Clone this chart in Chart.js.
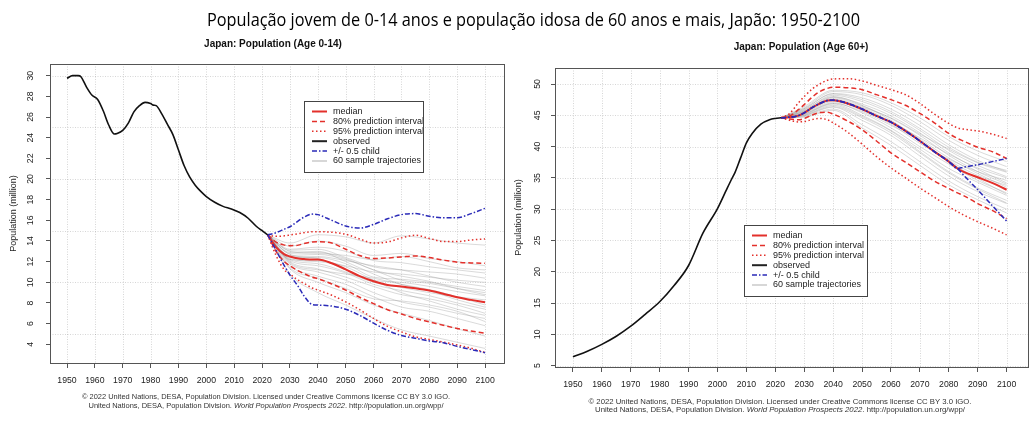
<!DOCTYPE html>
<html>
<head>
<meta charset="utf-8">
<script src="https://cdn.jsdelivr.net/npm/chart.js@4.4.0/dist/chart.umd.min.js"></script>
<style>
html, body { margin: 0; padding: 0; background: #fff; }
body { width: 1032px; height: 422px; position: relative; overflow: hidden; }
canvas { position: absolute; top: 0; }
#jovem { left: 0; }
#idosa { left: 510px; }
#titulo { position: absolute; left: 207px; top: 6px; white-space: nowrap; font-family: "Liberation Sans Narrow", "Open Sans", sans-serif; font-size: 19px; color: #000; transform-origin: 0 0; z-index: 2; }
</style>
</head>
<body>
<canvas id="jovem" width="516" height="422"></canvas>
<canvas id="idosa" width="522" height="422"></canvas>
<div id="titulo">População jovem de 0-14 anos e população idosa de 60 anos e mais, Japão: 1950-2100</div>
<script>
//Ticks do eixo x (iguais nos dois gráficos)
const anosTicks = [1950, 1960, 1970, 1980, 1990, 2000, 2010, 2020, 2030, 2040, 2050, 2060, 2070, 2080, 2090, 2100];

//----- Japão 0-14 anos -----
const anosObs014 = [1950, 1952, 1954, 1955, 1957, 1959, 1961, 1963, 1965, 1967, 1968, 1970, 1972, 1974, 1976, 1978, 1980, 1981, 1982, 1984, 1986, 1988, 1990, 1992, 1994, 1996, 1998, 2000, 2003, 2006, 2009, 2012, 2015, 2018, 2020, 2022];
const obs014 = [29.75, 30.0, 30.0, 29.9, 28.9, 28.1, 27.7, 26.6, 25.2, 24.35, 24.4, 24.7, 25.4, 26.5, 27.1, 27.42, 27.3, 27.15, 27.1, 26.3, 25.3, 24.3, 22.8, 21.3, 20.2, 19.4, 18.8, 18.3, 17.75, 17.35, 17.1, 16.75, 16.2, 15.4, 15.0, 14.6];

const anosProj014 = [2022, 2025, 2028, 2030, 2033, 2035, 2038, 2040, 2045, 2050, 2055, 2060, 2065, 2070, 2075, 2080, 2085, 2090, 2095, 2100];
const mediana014 = [14.6, 13.4, 12.7, 12.5, 12.3, 12.25, 12.2, 12.2, 11.85, 11.25, 10.6, 10.1, 9.75, 9.6, 9.42, 9.2, 8.9, 8.55, 8.3, 8.06];
const sup80_014 = [14.6, 13.9, 13.6, 13.55, 13.6, 13.75, 13.9, 13.93, 13.8, 13.2, 12.6, 12.3, 12.35, 12.45, 12.55, 12.4, 12.15, 11.95, 11.88, 11.84];
const inf80_014 = [14.6, 13.0, 12.0, 11.6, 11.1, 10.85, 10.5, 10.35, 9.84, 9.25, 8.55, 7.94, 7.35, 6.93, 6.5, 6.17, 5.84, 5.53, 5.28, 5.06];
const sup95_014 = [14.6, 14.45, 14.5, 14.58, 14.7, 14.8, 14.9, 14.9, 14.85, 14.65, 14.2, 13.8, 13.9, 14.3, 14.55, 14.25, 13.95, 13.95, 14.1, 14.2];
const inf95_014 = [14.6, 12.6, 11.2, 10.8, 10.2, 9.9, 9.45, 9.25, 8.75, 8.1, 7.35, 6.5, 5.74, 5.2, 4.73, 4.47, 4.22, 3.93, 3.62, 3.2];
const criancaSup014 = [14.6, 14.8, 15.15, 15.38, 15.95, 16.3, 16.6, 16.55, 16.0, 15.45, 15.25, 15.6, 16.15, 16.55, 16.65, 16.4, 16.25, 16.25, 16.65, 17.16];
const criancaInf014 = [14.6, 13.1, 11.6, 10.7, 9.58, 8.7, 7.85, 7.8, 7.7, 7.4, 6.8, 6.05, 5.35, 4.85, 4.58, 4.33, 4.15, 3.8, 3.5, 3.18];

const anosAmostra = [2022, 2030, 2040, 2050, 2060, 2070, 2080, 2090, 2100];
const amostras014 = [
  [14.6, 12.8, 12.9, 12.3, 11.2, 10.6, 10.1, 9.4, 8.8],
  [14.6, 12.1, 11.6, 10.9, 9.8, 9.2, 8.7, 8.0, 7.4],
  [14.6, 13.2, 13.4, 13.0, 12.1, 11.9, 11.5, 11.2, 10.9],
  [14.6, 11.8, 11.0, 10.2, 9.0, 8.1, 7.6, 7.0, 6.5],
  [14.6, 12.5, 12.4, 11.8, 10.5, 10.3, 10.0, 9.6, 9.2],
  [14.6, 12.9, 13.0, 12.0, 10.8, 9.8, 9.2, 8.3, 7.6],
  [14.6, 12.3, 12.0, 11.6, 11.0, 10.8, 10.5, 10.2, 10.0],
  [14.6, 11.6, 10.6, 9.8, 8.6, 7.6, 7.2, 6.5, 5.8],
  [14.6, 13.0, 12.8, 12.6, 12.2, 12.5, 12.0, 11.4, 11.2],
  [14.6, 12.2, 11.8, 11.0, 10.0, 9.5, 9.0, 8.6, 8.3],
  [14.6, 12.6, 12.7, 12.2, 11.2, 10.2, 9.9, 9.4, 9.0],
  [14.6, 12.0, 11.3, 10.5, 9.6, 8.8, 8.4, 7.8, 7.0],
  [14.6, 13.5, 14.0, 13.5, 12.6, 12.8, 12.3, 12.0, 11.6],
  [14.6, 11.3, 10.0, 9.0, 7.8, 7.0, 6.3, 5.5, 4.8],
  [14.6, 12.4, 12.5, 12.1, 11.6, 11.2, 10.6, 10.0, 9.6],
  [14.6, 12.7, 12.3, 11.2, 10.2, 10.0, 9.6, 9.1, 8.7],
  [14.6, 11.9, 11.2, 10.8, 10.4, 9.8, 9.3, 8.6, 7.8],
  [14.6, 12.2, 12.1, 11.5, 10.2, 9.0, 8.2, 7.4, 6.8],
  [14.6, 13.1, 13.2, 12.4, 11.5, 11.2, 11.0, 10.8, 10.4],
  [14.6, 11.4, 10.4, 9.4, 8.4, 8.2, 7.8, 7.2, 6.2],
  [14.6, 10.8, 9.0, 7.8, 6.5, 5.4, 4.8, 4.2, 3.6],
  [14.6, 13.8, 14.6, 14.4, 13.8, 14.5, 14.2, 13.8, 13.6]
];
const yTicks014 = [4, 6, 8, 10, 12, 14, 16, 18, 20, 22, 24, 26, 28, 30];
const yGrade014 = [5, 10, 15, 20, 25, 30];

//----- Japão 60+ -----
const anosObs60 = [1950, 1955, 1960, 1965, 1970, 1975, 1980, 1985, 1990, 1995, 2000, 2003, 2005, 2006, 2008, 2010, 2012, 2015, 2018, 2020, 2022];
const obs60 = [6.4, 7.3, 8.4, 9.7, 11.3, 13.2, 15.2, 17.8, 21.0, 26.2, 30.1, 33.0, 34.9, 35.8, 38.2, 40.6, 42.1, 43.6, 44.3, 44.5, 44.6];

const anosProj60 = [2022, 2025, 2028, 2030, 2033, 2035, 2038, 2040, 2045, 2050, 2055, 2060, 2065, 2070, 2075, 2080, 2083, 2085, 2090, 2095, 2100];
const mediana60 = [44.6, 44.7, 44.95, 45.4, 46.3, 46.8, 47.35, 47.4, 46.9, 46.0, 44.9, 43.9, 42.5, 40.9, 39.2, 37.6, 36.5, 36.0, 35.1, 34.2, 33.1];
const sup80_60 = [44.6, 44.9, 45.9, 46.7, 48.0, 48.7, 49.3, 49.5, 49.4, 49.1, 48.3, 47.5, 46.6, 45.3, 43.8, 42.1, 41.3, 40.9, 39.9, 39.2, 38.1];
const inf80_60 = [44.6, 44.4, 44.3, 44.5, 45.1, 45.4, 45.5, 45.2, 44.1, 42.7, 40.9, 39.0, 37.5, 36.0, 34.5, 33.3, 32.6, 32.2, 30.9, 29.8, 28.5];
const sup95_60 = [44.6, 45.3, 47.0, 48.0, 49.3, 49.9, 50.6, 50.8, 50.85, 50.5, 49.8, 49.1, 48.3, 46.9, 45.2, 43.7, 43.0, 42.8, 42.5, 42.0, 41.3];
const inf95_60 = [44.6, 44.2, 43.95, 44.0, 44.35, 44.5, 44.3, 43.8, 42.3, 40.4, 38.4, 36.6, 35.0, 33.4, 31.9, 30.4, 29.6, 29.1, 28.0, 27.0, 25.9];
const criancaSup60 = [44.6, 44.7, 44.95, 45.4, 46.3, 46.8, 47.35, 47.4, 46.9, 46.0, 44.9, 43.9, 42.5, 40.9, 39.2, 37.6, 36.5, 36.7, 37.1, 37.6, 38.1];
const criancaInf60 = [44.6, 44.7, 44.95, 45.4, 46.3, 46.8, 47.35, 47.4, 46.9, 46.0, 44.9, 43.9, 42.5, 40.9, 39.2, 37.6, 36.5, 35.5, 33.1, 30.6, 28.1];

const amostras60 = [
  [44.6, 45.8, 48.2, 47.2, 45.3, 42.6, 39.4, 37.0, 35.2],
  [44.6, 45.0, 46.6, 44.8, 42.5, 39.2, 36.0, 33.4, 31.4],
  [44.6, 46.2, 48.8, 48.3, 46.6, 44.0, 41.0, 38.6, 36.8],
  [44.6, 44.8, 46.0, 43.5, 40.8, 37.6, 34.5, 32.0, 30.0],
  [44.6, 45.5, 47.8, 46.5, 44.5, 41.8, 38.6, 36.0, 34.0],
  [44.6, 45.2, 47.0, 45.4, 43.0, 40.0, 37.2, 34.6, 32.6],
  [44.6, 46.0, 48.5, 47.8, 46.0, 43.4, 40.3, 37.8, 36.0],
  [44.6, 45.6, 47.5, 46.0, 43.9, 41.0, 37.8, 35.4, 33.8],
  [44.6, 44.9, 46.3, 44.2, 41.8, 38.5, 35.3, 32.8, 30.9],
  [44.6, 45.3, 47.2, 45.8, 43.6, 40.5, 38.0, 36.0, 34.6],
  [44.6, 45.7, 47.9, 46.8, 44.9, 42.2, 39.0, 36.4, 34.2],
  [44.6, 45.1, 46.8, 45.0, 42.6, 39.6, 36.5, 34.3, 32.2],
  [44.6, 46.4, 49.0, 48.6, 47.0, 44.6, 41.6, 39.3, 37.6],
  [44.6, 44.7, 45.8, 43.0, 40.2, 37.0, 33.9, 31.5, 29.4],
  [44.6, 45.4, 47.4, 46.2, 44.0, 41.4, 38.8, 36.6, 35.0],
  [44.6, 45.9, 48.0, 46.6, 44.2, 41.2, 38.2, 35.7, 33.5],
  [44.6, 45.2, 46.9, 45.6, 43.4, 40.9, 37.6, 34.9, 32.4],
  [44.6, 45.6, 47.6, 46.3, 44.6, 42.0, 39.6, 37.4, 35.9],
  [44.6, 45.0, 46.4, 44.6, 42.2, 39.0, 35.8, 33.2, 31.0],
  [44.6, 46.1, 48.4, 47.5, 45.6, 42.9, 39.9, 37.5, 36.2]
];
const yTicks60 = [5, 10, 15, 20, 25, 30, 35, 40, 45, 50];

//Cores e fontes
const VERMELHO = "#e3302b";
const AZUL = "#2a2ab8";
const FONTE = '"Liberation Sans", Arial, sans-serif';

//Itens da legenda
const itensLegenda = [
  { txt: "median", cor: VERMELHO, dash: [], w: 2 },
  { txt: "80% prediction interval", cor: VERMELHO, dash: [5, 3], w: 1.5 },
  { txt: "95% prediction interval", cor: VERMELHO, dash: [1.5, 2.5], w: 1.5 },
  { txt: "observed", cor: "#222", dash: [], w: 2 },
  { txt: "+/- 0.5 child", cor: AZUL, dash: [5, 2, 1.5, 2], w: 1.5 },
  { txt: "60 sample trajectories", cor: "#bdbdbd", dash: [], w: 1.2 }
];

//Título principal ajustado à largura
const titulo = document.getElementById("titulo");
titulo.style.transform = "scaleX(" + (653 / titulo.getBoundingClientRect().width) + ")";

function pontos(xs, ys) {
  return ys.map((v, i) => ({ x: xs[i], y: v }));
}

function linha(xs, ys, cor, larg, traco, ordem) {
  return {
    data: pontos(xs, ys),
    borderColor: cor,
    borderWidth: larg,
    borderDash: traco,
    pointRadius: 0,
    fill: false,
    cubicInterpolationMode: "monotone",
    order: ordem
  };
}

//Plugin: grade pontilhada, moldura, rótulos do eixo y, legenda, título e rodapé
const moldura = {
  id: "moldura",
  beforeDatasetsDraw(chart, args, o) {
    const { ctx, chartArea: a, scales } = chart;
    ctx.save();
    ctx.strokeStyle = "rgba(0,0,0,0.16)";
    ctx.lineWidth = 1;
    ctx.setLineDash([1, 1.5]);
    anosTicks.forEach((v) => {
      const x = Math.round(scales.x.getPixelForValue(v)) + 0.5;
      ctx.beginPath(); ctx.moveTo(x, a.top); ctx.lineTo(x, a.bottom); ctx.stroke();
    });
    o.gradeY.forEach((v) => {
      const y = Math.round(scales.y.getPixelForValue(v)) + 0.5;
      ctx.beginPath(); ctx.moveTo(a.left, y); ctx.lineTo(a.right, y); ctx.stroke();
    });
    ctx.restore();
  },
  afterDatasetsDraw(chart, args, o) {
    const { ctx, chartArea: a } = chart;
    ctx.save();
    ctx.strokeStyle = "#555";
    ctx.lineWidth = 1;
    ctx.strokeRect(a.left + 0.5, a.top + 0.5, a.right - a.left, a.bottom - a.top);

    //legenda
    const L = o.legenda;
    ctx.fillStyle = "#fff";
    ctx.fillRect(L.x, L.y, L.w, L.h);
    ctx.save();
    ctx.beginPath(); ctx.rect(L.x, L.y, L.w, L.h); ctx.clip();
    ctx.font = "9px " + FONTE;
    ctx.textBaseline = "middle";
    ctx.textAlign = "left";
    itensLegenda.forEach((it, i) => {
      const yy = L.y + 10.5 + i * 9.9;
      ctx.strokeStyle = it.cor; ctx.lineWidth = it.w; ctx.setLineDash(it.dash);
      ctx.beginPath(); ctx.moveTo(L.x + 8, yy); ctx.lineTo(L.x + 23, yy); ctx.stroke();
      ctx.fillStyle = "#222";
      ctx.fillText(it.txt, L.x + 29, yy);
    });
    ctx.restore();
    ctx.setLineDash([]);
    ctx.strokeStyle = "#444";
    ctx.strokeRect(L.x + 0.5, L.y + 0.5, L.w, L.h);
    ctx.restore();
  },
  afterDraw(chart, args, o) {
    const { ctx, chartArea: a, scales } = chart;
    ctx.save();
    ctx.fillStyle = "#222";
    ctx.textAlign = "center";
    ctx.textBaseline = "middle";
    //rótulos do eixo y, girados como no R
    ctx.font = "8.7px " + FONTE;
    o.yTicks.forEach((v) => {
      ctx.save();
      ctx.translate(o.rotuloX, scales.y.getPixelForValue(v));
      ctx.rotate(-Math.PI / 2);
      ctx.fillText(String(v), 0, 0);
      ctx.restore();
    });
    ctx.save();
    ctx.translate(o.eixoX, (a.top + a.bottom) / 2);
    ctx.rotate(-Math.PI / 2);
    ctx.font = "9px " + FONTE;
    ctx.fillText("Population (million)", 0, 0);
    ctx.restore();

    //título do painel
    ctx.fillStyle = "#111";
    ctx.font = "bold 10px " + FONTE;
    ctx.fillText(o.titulo, o.tituloX, o.tituloY);

    //rodapé
    const r = o.rodape;
    ctx.fillStyle = "#333";
    ctx.font = "7.5px " + FONTE;
    const l1 = "\u00a9 2022 United Nations, DESA, Population Division. Licensed under Creative Commons license CC BY 3.0 IGO.";
    const w1 = ctx.measureText(l1).width;
    ctx.save();
    ctx.translate(r.cx, r.y1);
    ctx.scale(r.w1 / w1, 1);
    ctx.fillText(l1, 0, 0);
    ctx.restore();

    const partes = [
      ["United Nations, DESA, Population Division. ", "7.5px "],
      ["World Population Prospects 2022", "italic 7.5px "],
      [". http://population.un.org/wpp/", "7.5px "]
    ];
    let total = 0;
    partes.forEach((p) => { ctx.font = p[1] + FONTE; total += ctx.measureText(p[0]).width; });
    ctx.save();
    ctx.translate(r.cx, r.y2);
    ctx.scale(r.w2 / total, 1);
    ctx.textAlign = "left";
    let x = -total / 2;
    partes.forEach((p) => {
      ctx.font = p[1] + FONTE;
      ctx.fillText(p[0], x, 0);
      x += ctx.measureText(p[0]).width;
    });
    ctx.restore();
    ctx.restore();
  }
};

function montar(id, c) {
  const datasets = [];
  datasets.push(linha(c.anosObs, c.obs, "#111", 1.6, [], 0));
  datasets.push(linha(c.anosProj, c.criancaSup, AZUL, 1.5, [5, 2, 1.5, 2], 1));
  datasets.push(linha(c.anosProj, c.criancaInf, AZUL, 1.5, [5, 2, 1.5, 2], 1));
  datasets.push(linha(c.anosProj, c.mediana, VERMELHO, 2, [], 2));
  datasets.push(linha(c.anosProj, c.sup80, VERMELHO, 1.5, [5, 3], 3));
  datasets.push(linha(c.anosProj, c.inf80, VERMELHO, 1.5, [5, 3], 3));
  datasets.push(linha(c.anosProj, c.sup95, VERMELHO, 1.5, [1.5, 2.5], 3));
  datasets.push(linha(c.anosProj, c.inf95, VERMELHO, 1.5, [1.5, 2.5], 3));
  c.amostras.forEach((a) => {
    datasets.push(linha(anosAmostra, a, "rgba(150,150,150,0.35)", 1, [], 10));
  });

  return new Chart(document.getElementById(id), {
    type: "line",
    data: { datasets: datasets },
    plugins: [moldura],
    options: {
      responsive: false,
      animation: false,
      events: [],
      layout: { padding: c.padding },
      scales: {
        x: {
          type: "linear",
          min: c.xMin,
          max: c.xMax,
          afterBuildTicks: (s) => { s.ticks = anosTicks.map((v) => ({ value: v })); },
          afterFit: (s) => { s.height = 30; },
          ticks: {
            autoSkip: false,
            maxRotation: 0,
            padding: 7,
            color: "#222",
            font: { size: 8.7, family: FONTE },
            callback: (v) => String(v)
          },
          grid: { drawOnChartArea: false, drawTicks: true, tickLength: 5, tickColor: "#555" },
          border: { display: false }
        },
        y: {
          type: "linear",
          min: c.yMin,
          max: c.yMax,
          afterBuildTicks: (s) => { s.ticks = c.yTicks.map((v) => ({ value: v })); },
          afterFit: (s) => { s.width = c.larguraY; },
          ticks: { display: false },
          grid: { drawOnChartArea: false, drawTicks: true, tickLength: 4, tickColor: "#555" },
          border: { display: false }
        }
      },
      plugins: {
        legend: { display: false },
        tooltip: { enabled: false },
        moldura: c.moldura
      }
    }
  });
}

montar("jovem", {
  anosObs: anosObs014, obs: obs014, anosProj: anosProj014,
  mediana: mediana014, sup80: sup80_014, inf80: inf80_014, sup95: sup95_014, inf95: inf95_014,
  criancaSup: criancaSup014, criancaInf: criancaInf014, amostras: amostras014,
  yTicks: yTicks014, xMin: 1943.9, xMax: 2106.8, yMin: 2.19, yMax: 31.13,
  larguraY: 50, padding: { left: 0, right: 12, top: 64, bottom: 29 },
  moldura: {
    gradeY: yGrade014, yTicks: yTicks014, rotuloX: 31, eixoX: 14,
    titulo: "Japan: Population (Age 0-14)", tituloX: 273, tituloY: 44,
    legenda: { x: 304, y: 101, w: 119, h: 71 },
    rodape: { cx: 266, y1: 397, y2: 406, w1: 368, w2: 355 }
  }
});

montar("idosa", {
  anosObs: anosObs60, obs: obs60, anosProj: anosProj60,
  mediana: mediana60, sup80: sup80_60, inf80: inf80_60, sup95: sup95_60, inf95: inf95_60,
  criancaSup: criancaSup60, criancaInf: criancaInf60, amostras: amostras60,
  yTicks: yTicks60, xMin: 1943.8, xMax: 2107.4, yMin: 4.78, yMax: 52.56,
  larguraY: 45, padding: { left: 0, right: 4, top: 68, bottom: 25 },
  moldura: {
    gradeY: yTicks60, yTicks: yTicks60, rotuloX: 28, eixoX: 9,
    titulo: "Japan: Population (Age 60+)", tituloX: 291, tituloY: 47,
    legenda: { x: 234, y: 225, w: 123, h: 71 },
    rodape: { cx: 270, y1: 402, y2: 410, w1: 383, w2: 370 }
  }
});
</script>
</body>
</html>
